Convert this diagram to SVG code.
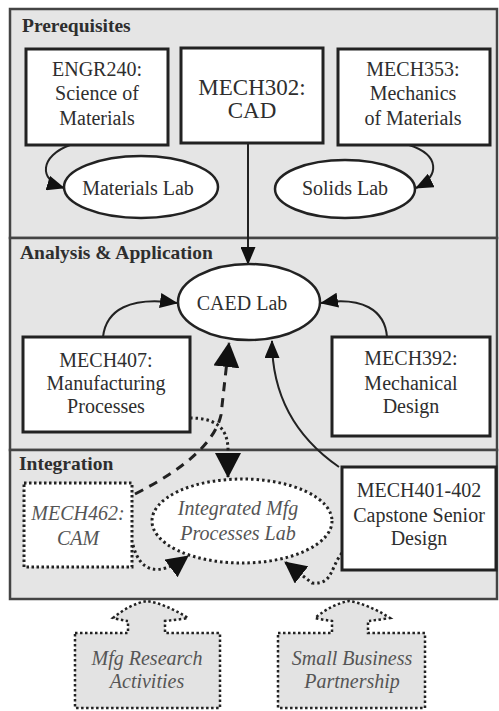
<svg xmlns="http://www.w3.org/2000/svg" width="499" height="711" viewBox="0 0 499 711">
<style>
.panel{fill:#e5e5e5;stroke:#444;stroke-width:2.5}
.box{fill:#fff;stroke:#222;stroke-width:3}
.ell{fill:#fff;stroke:#222;stroke-width:2.5}
.dbox{fill:#fff;stroke:#222;stroke-width:3;stroke-dasharray:2.5 2.5}
.blk{fill:#e3e3e3;stroke:#222;stroke-width:2.5;stroke-dasharray:2.5 2.5}
.t{font-family:"Liberation Serif","Times New Roman",serif;font-size:20px;fill:#2e2e2e;text-anchor:middle}
.big{font-size:23px}
.it{font-style:italic;fill:#555}
.hd{font-family:"Liberation Serif","Times New Roman",serif;font-size:19.5px;font-weight:bold;fill:#2e2e2e}
.c{fill:none;stroke:#222;stroke-width:2}
.dash{fill:none;stroke:#222;stroke-width:3;stroke-dasharray:9 7}
.dot{fill:none;stroke:#222;stroke-width:3;stroke-dasharray:2.5 3}
</style>
<defs>
<marker id="a" markerUnits="userSpaceOnUse" markerWidth="18" markerHeight="15" refX="17" refY="7.5" orient="auto"><path d="M0,0 L18,7.5 L0,15 z" fill="#111"/></marker>
<marker id="b" markerUnits="userSpaceOnUse" markerWidth="25" markerHeight="26" refX="24" refY="13" orient="auto"><path d="M0,0 L25,13 L0,26 z" fill="#111"/></marker>
<marker id="m" markerUnits="userSpaceOnUse" markerWidth="22" markerHeight="22" refX="21" refY="11" orient="auto"><path d="M0,0 L22,11 L0,22 z" fill="#111"/></marker>
</defs>
<rect width="499" height="711" fill="#fff"/>
<g id="panels">
<rect class="panel" x="10" y="9" width="487" height="229"/>
<rect class="panel" x="10" y="238" width="487" height="212"/>
<rect class="panel" x="10" y="450" width="487" height="149"/>
<text class="hd" x="22" y="32">Prerequisites</text>
<text class="hd" x="20" y="259">Analysis &amp; Application</text>
<text class="hd" x="19" y="470">Integration</text>
</g>
<g id="connectors">
<path class="c" d="M70,145 C40,156 38,180 64,188" marker-end="url(#a)"/>
<path class="c" d="M409,145 C440,155 440,176 416,188" marker-end="url(#a)"/>
<path class="c" d="M248,143 L248,264" marker-end="url(#a)"/>
<path class="c" d="M103,337 C106,310 130,296 177,303" marker-end="url(#a)"/>
<path class="c" d="M387,337 C385,310 362,296 321,303" marker-end="url(#a)"/>
<path class="c" d="M339,467 C300,440 272,400 272,341" marker-end="url(#a)"/>
<path class="dash" d="M135,494 Q212,455 221,415 L229,343" marker-end="url(#b)"/>
<path class="dot" d="M190,418 C212,418 228,425 228,450 L228,477" marker-end="url(#b)"/>
<path class="dot" d="M133,545 C140,572 158,578 188,556" marker-end="url(#m)"/>
<path class="dot" d="M342,553 C330,568 333,585 312,583 L285,562" marker-end="url(#m)"/>
</g>
<g id="engr240">
<rect class="box" x="26" y="49" width="142" height="96"/>
<text class="t" x="97" y="76">ENGR240:</text>
<text class="t" x="97" y="100">Science of</text>
<text class="t" x="97" y="125">Materials</text>
</g>
<g id="mech302">
<rect class="box" x="181" y="48" width="142" height="95"/>
<text class="t big" x="252" y="95">MECH302:</text>
<text class="t big" x="252" y="118">CAD</text>
</g>
<g id="mech353">
<rect class="box" x="338" y="49" width="152" height="96"/>
<text class="t" x="413" y="76">MECH353:</text>
<text class="t" x="413" y="100">Mechanics</text>
<text class="t" x="413" y="125">of Materials</text>
</g>
<g id="materialslab">
<ellipse class="ell" cx="141" cy="187" rx="77" ry="31"/>
<text class="t" x="138" y="195">Materials Lab</text>
</g>
<g id="solidslab">
<ellipse class="ell" cx="345" cy="189" rx="70" ry="29"/>
<text class="t" x="345" y="195">Solids Lab</text>
</g>
<g id="caedlab">
<ellipse class="ell" cx="249" cy="302" rx="71" ry="38"/>
<text class="t" x="242" y="310">CAED Lab</text>
</g>
<g id="mech407">
<rect class="box" x="23" y="337" width="167" height="95"/>
<text class="t" x="106" y="367">MECH407:</text>
<text class="t" x="106" y="390">Manufacturing</text>
<text class="t" x="106" y="413">Processes</text>
</g>
<g id="mech392">
<rect class="box" x="332" y="337" width="158" height="99"/>
<text class="t" x="411" y="365">MECH392:</text>
<text class="t" x="411" y="390">Mechanical</text>
<text class="t" x="411" y="413">Design</text>
</g>
<g id="mech462">
<rect class="dbox" x="24" y="483" width="108" height="84"/>
<text class="t it" x="78" y="520">MECH462:</text>
<text class="t it" x="78" y="545">CAM</text>
</g>
<g id="integratedlab">
<ellipse class="ell" cx="242" cy="521" rx="90" ry="42" style="stroke-width:3;stroke-dasharray:2.5 3"/>
<text class="t it" x="238" y="515">Integrated Mfg</text>
<text class="t it" x="238" y="540">Processes Lab</text>
</g>
<g id="capstone">
<rect class="box" x="342" y="467" width="154" height="103"/>
<text class="t" x="419" y="497">MECH401-402</text>
<text class="t" x="419" y="522">Capstone Senior</text>
<text class="t" x="419" y="545">Design</text>
</g>
<g id="mfgresearch">
<path class="blk" d="M75,633 L128,633 L128,621 Q121,620 113,618 Q130,604 147,601 Q166,604 188,618 Q176,620 165,621 L165,633 L220,633 L220,708 L75,708 Z"/>
<text class="t it" x="147" y="665">Mfg Research</text>
<text class="t it" x="147" y="688">Activities</text>
</g>
<g id="smallbusiness">
<path class="blk" d="M278,633 L332,633 L332,621 Q324,620 315,618 Q332,604 349,601 Q368,604 390,618 Q378,620 368,621 L368,633 L425,633 L425,708 L278,708 Z"/>
<text class="t it" x="352" y="665">Small Business</text>
<text class="t it" x="352" y="688">Partnership</text>
</g>
</svg>
